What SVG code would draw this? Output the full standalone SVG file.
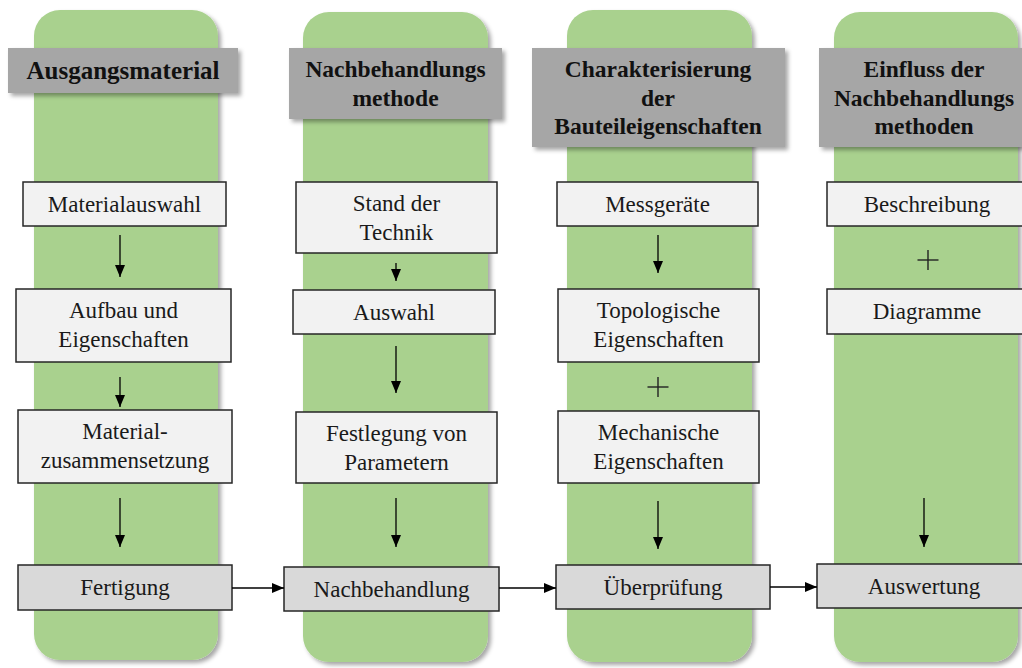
<svg xmlns="http://www.w3.org/2000/svg" width="1022" height="668" viewBox="0 0 1022 668">
<defs>
<filter id="sh" x="-10%" y="-10%" width="130%" height="130%">
<feDropShadow dx="3" dy="3" stdDeviation="2" flood-color="#000" flood-opacity="0.35"/>
</filter>
<marker id="ah" markerWidth="12" markerHeight="12" viewBox="0 0 12 12" refX="12" refY="6" orient="auto" markerUnits="userSpaceOnUse">
<path d="M0,1 L12,6 L0,11 Z" fill="#000"/>
</marker>
</defs>
<style>
.lane{fill:#a9d18e;filter:url(#sh)}
.hdr{fill:#a6a6a6;filter:url(#sh)}
text{font-family:'Liberation Serif',serif}
.ht{font-weight:bold;font-size:23.5px;fill:#111;text-anchor:middle}
.box{fill:#f2f2f2;stroke:#262626;stroke-width:1.5}
.box2{fill:#d9d9d9;stroke:#262626;stroke-width:1.5}
.bt{font-size:23px;fill:#1a1a1a;text-anchor:middle}
.con{stroke:#000;stroke-width:1.3;fill:none;marker-end:url(#ah)}
.plus{stroke:#222;stroke-width:1.4}
</style>
<rect width="1022" height="668" fill="#fff"/>
<g id="lanes">
<rect class="lane" x="34" y="10" width="184" height="650" rx="26"/>
<rect class="lane" x="303" y="12" width="185" height="650" rx="26"/>
<rect class="lane" x="567" y="10" width="185" height="652" rx="26"/>
<rect class="lane" x="834" y="12" width="184" height="650" rx="26"/>
</g>
<g id="h1"><rect class="hdr" x="8" y="48" width="230" height="45"/><text class="ht" x="123" y="79" style="font-size:25px">Ausgangsmaterial</text></g>
<g id="h2"><rect class="hdr" x="289" y="48" width="213" height="71"/><text class="ht" x="395.5" y="77">Nachbehandlungs</text><text class="ht" x="395.5" y="106">methode</text></g>
<g id="h3"><rect class="hdr" x="532" y="48" width="253" height="99"/><text class="ht" x="658" y="77">Charakterisierung</text><text class="ht" x="658" y="106">der</text><text class="ht" x="658" y="134">Bauteileigenschaften</text></g>
<g id="h4"><rect class="hdr" x="819" y="48" width="215" height="99"/><text class="ht" x="924" y="77">Einfluss der</text><text class="ht" x="924" y="106">Nachbehandlungs</text><text class="ht" x="924" y="134">methoden</text></g>

<g id="n-materialauswahl"><rect class="box" x="23" y="182" width="203" height="44"/><text class="bt" x="124.5" y="212">Materialauswahl</text></g>
<g id="n-aufbau"><rect class="box" x="16" y="289" width="215" height="73"/><text class="bt" x="123.5" y="318">Aufbau und</text><text class="bt" x="123.5" y="347">Eigenschaften</text></g>
<g id="n-zusammensetzung"><rect class="box" x="18" y="410" width="214" height="73"/><text class="bt" x="125" y="439">Material-</text><text class="bt" x="125" y="468">zusammensetzung</text></g>
<g id="n-fertigung"><rect class="box2" x="18" y="565" width="214" height="45"/><text class="bt" x="125" y="595">Fertigung</text></g>

<g id="n-stand"><rect class="box" x="296" y="182" width="201" height="71"/><text class="bt" x="396.5" y="211">Stand der</text><text class="bt" x="396.5" y="240">Technik</text></g>
<g id="n-auswahl"><rect class="box" x="293" y="290" width="202" height="44"/><text class="bt" x="394" y="320">Auswahl</text></g>
<g id="n-festlegung"><rect class="box" x="296" y="412" width="201" height="71"/><text class="bt" x="396.5" y="441">Festlegung von</text><text class="bt" x="396.5" y="470">Parametern</text></g>
<g id="n-nachbehandlung"><rect class="box2" x="284" y="567" width="215" height="44"/><text class="bt" x="391.5" y="597">Nachbehandlung</text></g>

<g id="n-messgeraete"><rect class="box" x="557" y="182" width="201" height="44"/><text class="bt" x="657.5" y="212">Messgeräte</text></g>
<g id="n-topologische"><rect class="box" x="558" y="289" width="201" height="73"/><text class="bt" x="658.5" y="318">Topologische</text><text class="bt" x="658.5" y="347">Eigenschaften</text></g>
<g id="plus1"><line class="plus" x1="647.5" y1="387" x2="668.5" y2="387"/><line class="plus" x1="658" y1="377" x2="658" y2="397"/></g>
<g id="n-mechanische"><rect class="box" x="558" y="411" width="201" height="72"/><text class="bt" x="658.5" y="440">Mechanische</text><text class="bt" x="658.5" y="469">Eigenschaften</text></g>
<g id="n-ueberpruefung"><rect class="box2" x="556" y="565" width="214" height="44"/><text class="bt" x="663" y="595">Überprüfung</text></g>

<g id="n-beschreibung"><rect class="box" x="827" y="182" width="205" height="44"/><text class="bt" x="927" y="212">Beschreibung</text></g>
<g id="plus2"><line class="plus" x1="917.5" y1="260" x2="938.5" y2="260"/><line class="plus" x1="928" y1="250" x2="928" y2="270"/></g>
<g id="n-diagramme"><rect class="box" x="827" y="289" width="205" height="45"/><text class="bt" x="927" y="319">Diagramme</text></g>
<g id="n-auswertung"><rect class="box2" x="817" y="564" width="215" height="44"/><text class="bt" x="924" y="594">Auswertung</text></g>

<g id="connectors">
<line class="con" x1="120" y1="235" x2="120" y2="277"/>
<line class="con" x1="120" y1="377" x2="120" y2="407"/>
<line class="con" x1="120" y1="498" x2="120" y2="547"/>
<line class="con" x1="396" y1="263" x2="396" y2="281"/>
<line class="con" x1="396" y1="346" x2="396" y2="393"/>
<line class="con" x1="396" y1="498" x2="396" y2="547"/>
<line class="con" x1="658" y1="235" x2="658" y2="273"/>
<line class="con" x1="658" y1="501" x2="658" y2="549"/>
<line class="con" x1="924" y1="498" x2="924" y2="547"/>
<line class="con" x1="232" y1="588" x2="284" y2="588"/>
<line class="con" x1="499" y1="588" x2="556" y2="588"/>
<line class="con" x1="770" y1="587" x2="817" y2="587"/>
</g>
</svg>
